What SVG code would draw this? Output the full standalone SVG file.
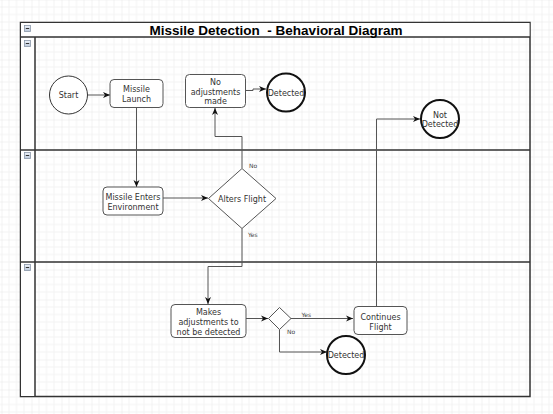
<svg xmlns="http://www.w3.org/2000/svg" width="553" height="414" viewBox="0 0 553 414">
<defs>
<pattern id="grid" patternUnits="userSpaceOnUse" x="1.5" y="-0.5" width="30" height="30">
<path d="M7.5 0V30M15 0V30M22.5 0V30M0 7.5H30M0 15H30M0 22.5H30" stroke="#f3f3f3" stroke-width="1" fill="none"/>
<path d="M0 0V30M0 0H30" stroke="#e6e6e6" stroke-width="1" fill="none"/>
</pattern>
<marker id="arr" markerWidth="8" markerHeight="8" refX="7" refY="4" orient="auto" markerUnits="userSpaceOnUse">
<path d="M0 1 L7 4 L0 7 L2 4 Z" fill="#111"/>
</marker>
<linearGradient id="ig" x1="0" y1="0" x2="0" y2="1">
<stop offset="0" stop-color="#eef3fa"/>
<stop offset="1" stop-color="#b9c6d8"/>
</linearGradient>
<g id="minus">
<rect x="0.5" y="0.5" width="6" height="6" fill="url(#ig)" stroke="#8a97a8" stroke-width="0.8"/>
<path d="M1.8 3.5H5.2" stroke="#333" stroke-width="1"/>
</g>
</defs>
<style>
.t{font-family:"DejaVu Sans",Verdana,sans-serif;font-size:8px;fill:#333;text-anchor:middle}
.lbl{font-family:"DejaVu Sans",Verdana,sans-serif;font-size:6px;fill:#444}
.box{fill:#fff;stroke:#555;stroke-width:1}
.thin{fill:#fff;stroke:#333;stroke-width:1}
.thick{fill:#fff;stroke:#111;stroke-width:2}
.e{fill:none;stroke:#555;stroke-width:1}
.ea{fill:none;stroke:#555;stroke-width:1;marker-end:url(#arr)}
</style>
<rect width="553" height="414" fill="#fff"/>
<rect width="553" height="414" fill="url(#grid)"/>

<g id="pool">
<rect x="20.5" y="22.5" width="509.5" height="374" fill="none" stroke="#333" stroke-width="1.5"/>
<rect x="21" y="23" width="508.5" height="14" fill="#fff"/>
<rect x="21" y="37" width="14" height="359" fill="#fff"/>
<path d="M20.5 37H530M35 37V396.5M20.5 150H530M20.5 262H530" stroke="#333" stroke-width="1.5" fill="none"/>
<text x="276" y="35" xml:space="preserve" style="font-family:'Liberation Sans',Arial,sans-serif;font-weight:bold;font-size:13.5px;fill:#000;text-anchor:middle">Missile Detection  - Behavioral Diagram</text>
<use href="#minus" x="24" y="25"/>
<use href="#minus" x="24" y="40"/>
<use href="#minus" x="24" y="152"/>
<use href="#minus" x="24" y="264"/>
</g>

<g id="connectors">
<path class="ea" d="M88 95H110"/>
<path class="ea" d="M136.5 108V187"/>
<path class="ea" d="M163 198H208"/>
<path class="ea" d="M246 90.5H253V89H266"/>
<path class="ea" d="M242 168V136.5H215V108"/>
<path class="ea" d="M242 228.5V266.5H208V304"/>
<path class="ea" d="M246 318.5H268"/>
<path class="ea" d="M291 318.5H353"/>
<path class="ea" d="M279.5 329.5V352H327"/>
<path class="ea" d="M376.5 306.5V119H420"/>
<text class="lbl" x="249" y="167.5">No</text>
<text class="lbl" x="248" y="237">Yes</text>
<text class="lbl" x="301.5" y="316.5">Yes</text>
<text class="lbl" x="287" y="334">No</text>
</g>

<g id="start">
<circle class="thin" cx="68.5" cy="95" r="19"/>
<text class="t" x="68.5" y="98">Start</text>
</g>
<g id="missile-launch">
<rect class="box" x="110" y="79.5" width="53" height="28" rx="4"/>
<text class="t" x="136.5" y="92">Missile</text>
<text class="t" x="136.5" y="101.8">Launch</text>
</g>
<g id="no-adjustments">
<rect class="box" x="185.5" y="74.5" width="60" height="33" rx="4"/>
<text class="t" x="215.5" y="85">No</text>
<text class="t" x="215.5" y="94.8">adjustments</text>
<text class="t" x="215.5" y="104.4">made</text>
</g>
<g id="detected-1">
<circle class="thick" cx="286" cy="92.5" r="19"/>
<text class="t" x="286" y="95.5">Detected</text>
</g>
<g id="not-detected">
<circle class="thick" cx="440" cy="119" r="19"/>
<text class="t" x="440" y="117.5">Not</text>
<text class="t" x="440" y="127.3">Detected</text>
</g>
<g id="missile-enters">
<rect class="box" x="103" y="187" width="60" height="28" rx="4"/>
<text class="t" x="133" y="200">Missile Enters</text>
<text class="t" x="133" y="209.8">Environment</text>
</g>
<g id="alters-flight">
<path class="box" d="M242 168.5L276 198.5L242 228.5L208.5 198.5Z"/>
<text class="t" x="242" y="201.5">Alters Flight</text>
</g>
<g id="makes-adjustments">
<rect class="box" x="171" y="304.5" width="75" height="33" rx="4"/>
<text class="t" x="208.5" y="315">Makes</text>
<text class="t" x="208.5" y="324.8">adjustments to</text>
<text class="t" x="208.5" y="334.6">not be detected</text>
</g>
<g id="decision">
<path class="box" d="M279.5 307.5L291 318.5L279.5 329.5L268.5 318.5Z"/>
</g>
<g id="continues-flight">
<rect class="box" x="354" y="306.5" width="53" height="28" rx="4"/>
<text class="t" x="380.5" y="320">Continues</text>
<text class="t" x="380.5" y="329.8">Flight</text>
</g>
<g id="detected-2">
<circle class="thick" cx="346" cy="355" r="19"/>
<text class="t" x="346" y="358">Detected</text>
</g>
</svg>
